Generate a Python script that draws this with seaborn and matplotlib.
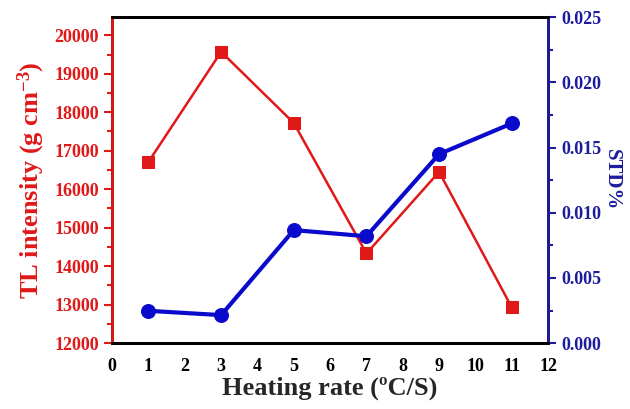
import numpy as np
import pandas as pd
import matplotlib
matplotlib.use("Agg")
import matplotlib.pyplot as plt
from matplotlib.ticker import MultipleLocator, FormatStrFormatter
import seaborn as sns

heating_rate = [1, 3, 5, 7, 9, 11]
tl_intensity = [16710, 19570, 17720, 14330, 16450, 12930]
std_percent = [0.00248, 0.00215, 0.00867, 0.0082, 0.0145, 0.01685]

sns.set_style("white")
plt.rcParams['font.family'] = ['Liberation Serif', 'DejaVu Serif']
plt.rcParams['font.weight'] = 'bold'
plt.rcParams['mathtext.fontset'] = 'custom'
plt.rcParams['mathtext.rm'] = 'Liberation Serif:bold'
plt.rcParams['mathtext.bf'] = 'Liberation Serif:bold'
plt.rcParams['mathtext.default'] = 'bf'

red = "#e01818"
blue = "#0a0acc"
navy = "#1c1c9c"

df = pd.DataFrame({"rate": heating_rate, "tl": tl_intensity, "std": std_percent})

fig = plt.figure(figsize=(6.3, 4.09), dpi=100)
ax = fig.add_axes([0.178, 0.161, 0.692, 0.797])
ax2 = ax.twinx()

sns.lineplot(data=df, x="rate", y="tl", ax=ax, color=red, marker="s", markersize=9,
             markeredgecolor=red, linewidth=1.8)
sns.lineplot(data=df, x="rate", y="std", ax=ax2, color=blue, marker="o", markersize=10,
             markeredgecolor=blue, linewidth=3)

ax.set_xlim(0, 12)
ax.set_ylim(12000, 20470)
ax2.set_ylim(0, 0.025)

ax.xaxis.set_major_locator(MultipleLocator(1))
ax.xaxis.set_minor_locator(MultipleLocator(0.5))
ax.yaxis.set_major_locator(MultipleLocator(1000))
ax.yaxis.set_minor_locator(MultipleLocator(500))
ax2.yaxis.set_major_locator(MultipleLocator(0.005))
ax2.yaxis.set_minor_locator(MultipleLocator(0.0025))
ax2.yaxis.set_major_formatter(FormatStrFormatter('%.3f'))

for a in (ax, ax2):
    for s in a.spines.values():
        s.set_linewidth(2)
        s.set_color("black")
ax2.spines['left'].set_color(red)
ax2.spines['right'].set_color(navy)

ax.tick_params(axis='x', which='major', direction='out', length=6, width=1.5, colors='black',
               labelsize=13, pad=5)
ax.tick_params(axis='x', which='minor', direction='out', length=3.5, width=1.5, colors='black')
ax.tick_params(axis='y', which='major', direction='out', length=6, width=1.5, colors=red,
               labelsize=13)
ax.tick_params(axis='y', which='minor', direction='out', length=3.5, width=1.5, colors=red)
ax2.tick_params(axis='y', which='major', direction='out', length=6, width=1.5, colors=navy,
                labelsize=13)
ax2.tick_params(axis='y', which='minor', direction='out', length=3.5, width=1.5, colors=navy)

ax.set_xlabel("Heating rate (ºC/S)", fontsize=19, fontweight='bold', labelpad=1)
ax.set_ylabel("TL intensity (g cm$^{-3}$)", fontsize=19, fontweight='bold', color=red,
              labelpad=5)
ax2.set_ylabel("STD%", fontsize=15, fontweight='bold', color=navy, rotation=270, labelpad=15)

fig.savefig("out.png", dpi=100, facecolor="white")
